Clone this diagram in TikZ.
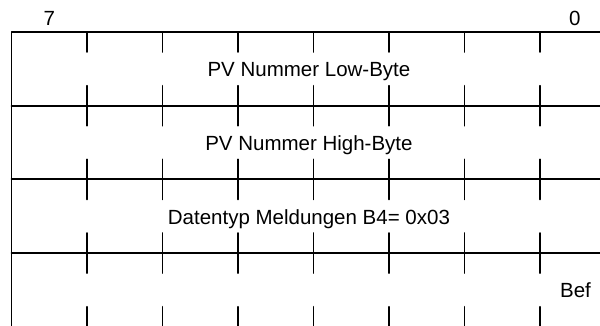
\documentclass[tikz,border=0pt]{standalone}
\usepackage{fontspec}
\setmainfont{Liberation Sans}
\begin{document}
\begin{tikzpicture}[line cap=round,line join=round,x=75.5pt,y=-73.7pt,line width=1.8pt,font=\fontsize{20.5}{24}\selectfont]
\useasboundingbox (-0.152,-0.434) rectangle (7.795,3.976);
\clip (-0.152,-0.434) rectangle (7.795,3.976);
% frame and byte borders
\draw (0,4)--(0,0)--(8,0)--(8,4);
\foreach \r in {1,2,3,4} \draw (0,\r)--(8,\r);
% bit ticks
\foreach \r in {0,1,2,3} \foreach \c in {1,...,7} {
  \draw (\c,\r)--(\c,\r+0.271);
  \draw (\c,\r+1)--(\c,\r+0.729);
}
\node [anchor=base] (bit7) at (0.5,-0.085) {7};
\node [anchor=base] (bit0) at (7.46,-0.085) {0};
\node [anchor=base] (lowbyte) at (3.94,0.606) {PV Nummer Low-Byte};
\node [anchor=base] (highbyte) at (3.94,1.606) {PV Nummer High-Byte};
\node [anchor=base] (datentyp) at (3.94,2.606) {Datentyp Meldungen B4= 0x03};
\node [anchor=base] (bef) at (7.47,3.605) {Bef};
\end{tikzpicture}
\end{document}
